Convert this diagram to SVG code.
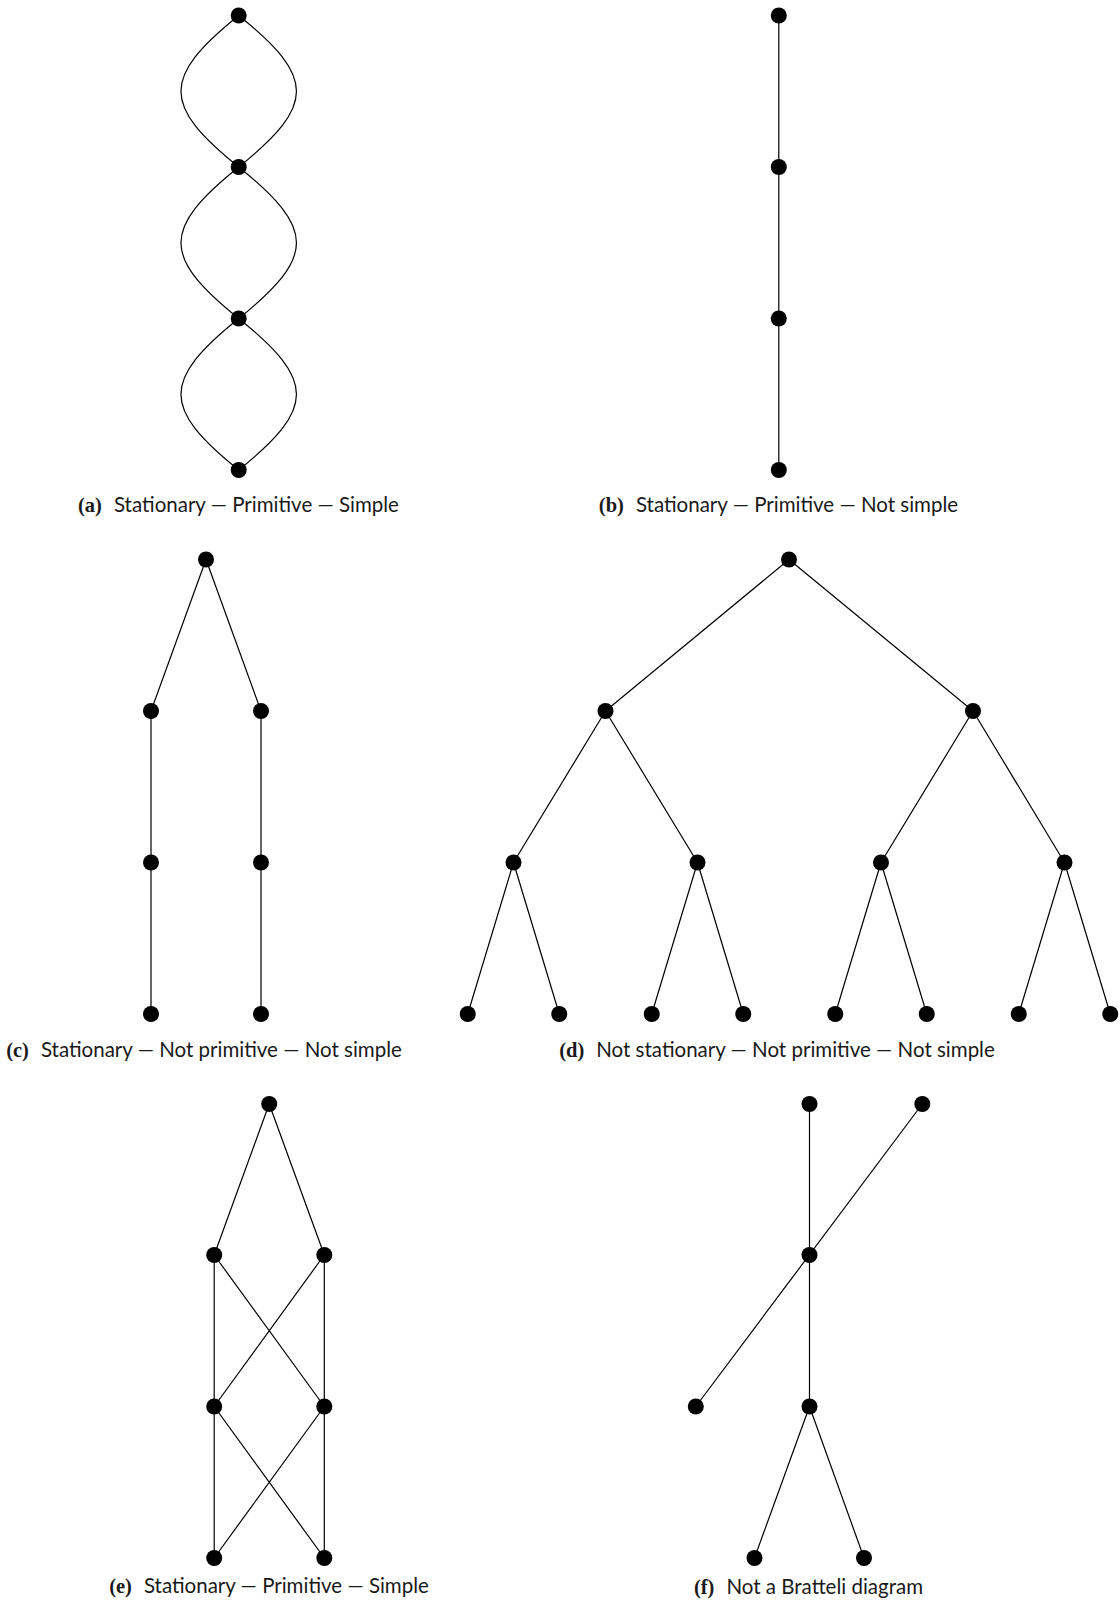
<svg xmlns="http://www.w3.org/2000/svg" width="1120" height="1607" viewBox="0 0 1120 1607">
<style>
.e{stroke:#000;stroke-width:1.2;fill:none}
.n{fill:#000}
.cap{font-family:Lato,"Open Sans","Liberation Sans",sans-serif;font-size:20.5px;fill:#1a1a1a;text-anchor:middle}
.lab{font-family:"Liberation Serif",serif;font-weight:bold}
</style>
<rect width="1120" height="1607" fill="#fff"/>
<g id="connectors">
<!-- (a) -->
<path class="e" d="M238.7,15.5 C161.7,77.5 161.7,105 238.7,167"/>
<path class="e" d="M238.7,15.5 C315.7,77.5 315.7,105 238.7,167"/>
<path class="e" d="M238.7,167 C161.7,229 161.7,256.5 238.7,318.5"/>
<path class="e" d="M238.7,167 C315.7,229 315.7,256.5 238.7,318.5"/>
<path class="e" d="M238.7,318.5 C161.7,380.5 161.7,408 238.7,470"/>
<path class="e" d="M238.7,318.5 C315.7,380.5 315.7,408 238.7,470"/>
<!-- (b) -->
<path class="e" d="M778.8,15.5 V470"/>
<!-- (c) -->
<path class="e" d="M206,559.5 L151,711 V1014 M206,559.5 L261,711 V1014"/>
<!-- (d) -->
<path class="e" d="M789,559.5 L605.5,711 M789,559.5 L973,711"/>
<path class="e" d="M605.5,711 L513.5,862.5 M605.5,711 L697.5,862.5 M973,711 L881,862.5 M973,711 L1064.5,862.5"/>
<path class="e" d="M513.5,862.5 L467.75,1014 M513.5,862.5 L559.25,1014 M697.5,862.5 L651.75,1014 M697.5,862.5 L743.25,1014 M881,862.5 L835.25,1014 M881,862.5 L926.75,1014 M1064.5,862.5 L1018.75,1014 M1064.5,862.5 L1110.25,1014"/>
<!-- (e) -->
<path class="e" d="M269.2,1104 L214.2,1255 M269.2,1104 L324.3,1255"/>
<path class="e" d="M214.2,1255 V1558 M324.3,1255 V1558"/>
<path class="e" d="M214.2,1255 L324.3,1406.5 M324.3,1255 L214.2,1406.5 M214.2,1406.5 L324.3,1558 M324.3,1406.5 L214.2,1558"/>
<!-- (f) -->
<path class="e" d="M809.5,1104 V1406.5 M922.3,1104 L695.8,1406.5 M809.5,1406.5 L754.5,1558 M809.5,1406.5 L864,1558"/>
</g>
<g id="fig-a">
<g id="a1"><circle class="n" cx="238.7" cy="15.5" r="8"/></g>
<g id="a2"><circle class="n" cx="238.7" cy="167" r="8"/></g>
<g id="a3"><circle class="n" cx="238.7" cy="318.5" r="8"/></g>
<g id="a4"><circle class="n" cx="238.7" cy="470" r="8"/></g>
</g>
<g id="fig-b">
<g id="b1"><circle class="n" cx="778.8" cy="15.5" r="8"/></g>
<g id="b2"><circle class="n" cx="778.8" cy="167" r="8"/></g>
<g id="b3"><circle class="n" cx="778.8" cy="318.5" r="8"/></g>
<g id="b4"><circle class="n" cx="778.8" cy="470" r="8"/></g>
</g>
<g id="fig-c">
<g id="c1"><circle class="n" cx="206" cy="559.5" r="8"/></g>
<g id="c2"><circle class="n" cx="151" cy="711" r="8"/></g>
<g id="c3"><circle class="n" cx="261" cy="711" r="8"/></g>
<g id="c4"><circle class="n" cx="151" cy="862.5" r="8"/></g>
<g id="c5"><circle class="n" cx="261" cy="862.5" r="8"/></g>
<g id="c6"><circle class="n" cx="151" cy="1014" r="8"/></g>
<g id="c7"><circle class="n" cx="261" cy="1014" r="8"/></g>
</g>
<g id="fig-d">
<g id="d1"><circle class="n" cx="789" cy="559.5" r="8"/></g>
<g id="d2"><circle class="n" cx="605.5" cy="711" r="8"/></g>
<g id="d3"><circle class="n" cx="973" cy="711" r="8"/></g>
<g id="d4"><circle class="n" cx="513.5" cy="862.5" r="8"/></g>
<g id="d5"><circle class="n" cx="697.5" cy="862.5" r="8"/></g>
<g id="d6"><circle class="n" cx="881" cy="862.5" r="8"/></g>
<g id="d7"><circle class="n" cx="1064.5" cy="862.5" r="8"/></g>
<g id="d8"><circle class="n" cx="467.75" cy="1014" r="8"/></g>
<g id="d9"><circle class="n" cx="559.25" cy="1014" r="8"/></g>
<g id="d10"><circle class="n" cx="651.75" cy="1014" r="8"/></g>
<g id="d11"><circle class="n" cx="743.25" cy="1014" r="8"/></g>
<g id="d12"><circle class="n" cx="835.25" cy="1014" r="8"/></g>
<g id="d13"><circle class="n" cx="926.75" cy="1014" r="8"/></g>
<g id="d14"><circle class="n" cx="1018.75" cy="1014" r="8"/></g>
<g id="d15"><circle class="n" cx="1110.25" cy="1014" r="8"/></g>
</g>
<g id="fig-e">
<g id="e1"><circle class="n" cx="269.2" cy="1104" r="8"/></g>
<g id="e2"><circle class="n" cx="214.2" cy="1255" r="8"/></g>
<g id="e3"><circle class="n" cx="324.3" cy="1255" r="8"/></g>
<g id="e4"><circle class="n" cx="214.2" cy="1406.5" r="8"/></g>
<g id="e5"><circle class="n" cx="324.3" cy="1406.5" r="8"/></g>
<g id="e6"><circle class="n" cx="214.2" cy="1558" r="8"/></g>
<g id="e7"><circle class="n" cx="324.3" cy="1558" r="8"/></g>
</g>
<g id="fig-f">
<g id="f1"><circle class="n" cx="809.5" cy="1104" r="8"/></g>
<g id="f2"><circle class="n" cx="922.3" cy="1104" r="8"/></g>
<g id="f3"><circle class="n" cx="809.5" cy="1255" r="8"/></g>
<g id="f4"><circle class="n" cx="695.8" cy="1406.5" r="8"/></g>
<g id="f5"><circle class="n" cx="809.5" cy="1406.5" r="8"/></g>
<g id="f6"><circle class="n" cx="754.5" cy="1558" r="8"/></g>
<g id="f7"><circle class="n" cx="864" cy="1558" r="8"/></g>
</g>
<g id="captions">
<text class="cap" x="238.5" y="512"><tspan class="lab">(a)</tspan><tspan dx="12">Stationary — Primitive — Simple</tspan></text>
<text class="cap" x="778.5" y="512"><tspan class="lab">(b)</tspan><tspan dx="12">Stationary — Primitive — Not simple</tspan></text>
<text class="cap" x="204" y="1057"><tspan class="lab">(c)</tspan><tspan dx="12">Stationary — Not primitive — Not simple</tspan></text>
<text class="cap" x="777" y="1057"><tspan class="lab">(d)</tspan><tspan dx="12">Not stationary — Not primitive — Not simple</tspan></text>
<text class="cap" x="269" y="1593"><tspan class="lab">(e)</tspan><tspan dx="12">Stationary — Primitive — Simple</tspan></text>
<text class="cap" x="808.5" y="1594"><tspan class="lab">(f)</tspan><tspan dx="12">Not a Bratteli diagram</tspan></text>
</g>
</svg>
